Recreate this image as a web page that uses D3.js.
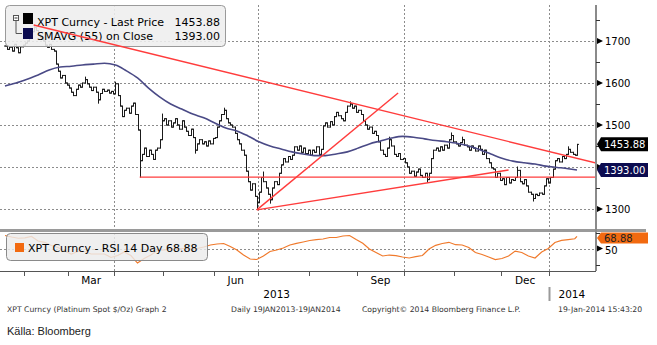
<!DOCTYPE html>
<html><head><meta charset="utf-8">
<script src="https://cdn.jsdelivr.net/npm/d3@7"></script>
<style>
html,body{margin:0;padding:0;background:#fff;}
svg{display:block;}
text{font-family:"DejaVu Sans",Verdana,sans-serif;}
</style></head><body>
<svg id="chart" width="657" height="345"></svg>
<script>
// XPT Curncy daily closes, one array per month (USD/oz)
const closeJan13 = [1688, 1680, 1685, 1676, 1692, 1684, 1672, 1686, 1690];
const closeFeb13 = [1695, 1700, 1712, 1722, 1732, 1725, 1715, 1708, 1700, 1690, 1685, 1692, 1680, 1676, 1645, 1628, 1612, 1618, 1600, 1595];
const closeMar13 = [1588, 1578, 1570, 1585, 1595, 1590, 1600, 1608, 1598, 1590, 1582, 1590, 1578, 1560, 1575, 1585, 1580, 1583, 1576, 1580, 1574];
const closeApr13 = [1598, 1570, 1545, 1520, 1535, 1540, 1528, 1545, 1552, 1525, 1488, 1415, 1430, 1445, 1425, 1440, 1430, 1418, 1440, 1445, 1465, 1510];
const closeMay13 = [1515, 1500, 1510, 1495, 1505, 1515, 1500, 1490, 1510, 1495, 1485, 1475, 1490, 1470, 1440, 1455, 1465, 1455, 1460, 1450, 1462, 1455, 1468];
const closeJun13 = [1470, 1495, 1510, 1525, 1535, 1515, 1505, 1500, 1495, 1480, 1465, 1455, 1440, 1428, 1390, 1365, 1345, 1360, 1330, 1315];
const closeJul13 = [1340, 1375, 1365, 1350, 1335, 1322, 1350, 1365, 1358, 1385, 1405, 1420, 1412, 1425, 1418, 1428, 1448, 1440, 1450, 1435, 1445, 1432, 1440];
const closeAug13 = [1428, 1440, 1435, 1448, 1430, 1442, 1498, 1505, 1495, 1508, 1500, 1520, 1530, 1522, 1515, 1510, 1530, 1545, 1550, 1540, 1545, 1530];
const closeSep13 = [1535, 1525, 1510, 1500, 1490, 1495, 1480, 1485, 1475, 1460, 1440, 1430, 1425, 1445, 1465, 1450, 1430, 1425, 1432, 1418, 1420];
const closeOct13 = [1410, 1400, 1385, 1390, 1378, 1388, 1395, 1380, 1375, 1385, 1370, 1385, 1420, 1440, 1445, 1438, 1448, 1440, 1452, 1445, 1465, 1475, 1460];
const closeNov13 = [1455, 1450, 1458, 1465, 1452, 1448, 1440, 1450, 1445, 1438, 1450, 1442, 1430, 1440, 1420, 1410, 1398, 1395, 1375, 1385, 1368];
const closeDec13 = [1372, 1358, 1375, 1362, 1370, 1368, 1375, 1392, 1365, 1360, 1370, 1355, 1340, 1335, 1325, 1335, 1332, 1338, 1335, 1355, 1372, 1362];
const closeJan14 = [1375, 1395, 1415, 1420, 1412, 1425, 1420, 1430, 1442, 1435, 1430, 1428, 1453.88];

// intraday extremes that reach beyond the open/close range: [trading day, price]
const intradayHighs = [[13, 1739], [36, 1614], [50, 1602], [71, 1526], [99, 1540], [117, 1388], [156, 1555], [174, 1471], [202, 1481], [207, 1471], [232, 1400], [255, 1448]];
const intradayLows = [[42, 1552], [61, 1376], [86, 1433], [114, 1299], [120, 1314], [191, 1364], [239, 1319]];

// SMAVG (55) on close, every 5th trading day plus the last one
const smaValues = [1593, 1600, 1609, 1619, 1631, 1638, 1640, 1643, 1645, 1647, 1643, 1629, 1612, 1588, 1567, 1550, 1538, 1526, 1517, 1505, 1493, 1486, 1474, 1460, 1450, 1443, 1436, 1431, 1427, 1427, 1431, 1436, 1445, 1455, 1462, 1469, 1473, 1471, 1467, 1463, 1460, 1456, 1450, 1441, 1431, 1421, 1414, 1410, 1407, 1402, 1399, 1396, 1393];

// RSI 14 day, every 3rd trading day plus the last one
const rsiValues = [70.3, 68, 66, 66.7, 68.8, 61.7, 59.7, 54.7, 51.6, 46, 41.4, 45.3, 45.3, 41.4, 41.4, 41.4, 36, 39, 44.5, 39, 27.3, 34.4, 39.8, 46.9, 47.7, 49.2, 50, 50, 49.2, 50, 52.3, 55.5, 57, 57.8, 53, 47.7, 39.8, 33.6, 32.8, 38.3, 45.3, 47.7, 50.8, 55.5, 58.1, 60.2, 62.5, 64, 64.8, 67.2, 67.2, 69.5, 70.3, 64, 58.1, 49.2, 43.8, 38.3, 39.8, 39, 36.7, 35.2, 37.2, 39, 49.2, 55, 57.8, 59.7, 55.9, 55.5, 51.6, 43.8, 40.6, 36.7, 32.8, 34.4, 38.3, 46, 43.8, 38.3, 35.2, 44.5, 50, 59.4, 62.8, 64, 65.2, 68.88];

// hand-drawn trend lines: [trading day, price]
const trendLines = [
  [[13, 1738], [268, 1409]],
  [[61, 1376], [268, 1376]],
  [[114, 1298], [228, 1393]],
  [[114, 1298], [178, 1576]]
];

const priceTicks = [1300, 1400, 1500, 1600, 1700];
const monthNames = ["Jan","Feb","Mar","Apr","May","Jun","Jul","Aug","Sep","Oct","Nov","Dec"];
const labelMonths = [2, 5, 8, 11];   // Mar, Jun, Sep, Dec
const lastPrice = 1453.88, lastSma = 1393.00, lastRsi = 68.88;

const closes = [].concat(closeJan13, closeFeb13, closeMar13, closeApr13, closeMay13, closeJun13,
  closeJul13, closeAug13, closeSep13, closeOct13, closeNov13, closeDec13, closeJan14);

// trading calendar: weekdays from Mon 21 Jan 2013
const days = [];
{
  const d = new Date(2013, 0, 21);
  while (days.length < closes.length) {
    const wd = d.getDay();
    if (wd !== 0 && wd !== 6) days.push(new Date(d));
    d.setDate(d.getDate() + 1);
  }
}

const svg = d3.select("#chart");
const axisX = 596, mainTop = 5, mainBottom = 228, rsiTop = 232, rsiBottom = 271;
const x = d3.scaleLinear().domain([0, closes.length - 1]).range([5, 577]);
const y = d3.scaleLinear().domain([1300, 1700]).range([209, 41]);
const yR = d3.scaleLinear().domain([25, 75]).range([264.5, 232.5]);

const defs = svg.append("defs");
defs.append("clipPath").attr("id", "mainClip").append("rect")
  .attr("x", 0).attr("y", mainTop).attr("width", axisX).attr("height", mainBottom - mainTop);
defs.append("clipPath").attr("id", "rsiClip").append("rect")
  .attr("x", 0).attr("y", rsiTop).attr("width", axisX).attr("height", rsiBottom - rsiTop);

// month boundaries
const monthStarts = [];
days.forEach((d, i) => { if (i > 0 && d.getMonth() !== days[i - 1].getMonth()) monthStarts.push(i); });
const quarterStarts = monthStarts.filter(i => days[i].getMonth() % 3 === 0);

const grid = svg.append("g").attr("stroke", "#8c8c8c").attr("stroke-dasharray", "2,2").attr("stroke-width", 1);
priceTicks.forEach(v => grid.append("line").attr("x1", 0).attr("x2", axisX).attr("y1", Math.round(y(v)) + 0.5).attr("y2", Math.round(y(v)) + 0.5));
grid.append("line").attr("x1", 0).attr("x2", axisX).attr("y1", Math.round(yR(50)) + 0.5).attr("y2", Math.round(yR(50)) + 0.5);
quarterStarts.forEach(i => {
  const xx = Math.round(x(i - 0.5)) + 0.5;
  grid.append("line").attr("x1", xx).attr("x2", xx).attr("y1", mainTop).attr("y2", rsiBottom);
});

// OHLC bars: open is the previous close
const bars = days.map((d, i) => {
  const c = closes[i], o = i > 0 ? closes[i - 1] : c;
  let hi = Math.max(o, c), lo = Math.min(o, c);
  intradayHighs.forEach(([k, v]) => { if (k === i) hi = Math.max(hi, v); });
  intradayLows.forEach(([k, v]) => { if (k === i) lo = Math.min(lo, v); });
  return { i, o, c, hi, lo };
});
const barG = svg.append("g").attr("clip-path", "url(#mainClip)").attr("stroke", "#1a1a1a").attr("stroke-width", 1);
bars.forEach(b => {
  const xx = Math.round(x(b.i)) + 0.5;
  barG.append("line").attr("x1", xx).attr("x2", xx).attr("y1", y(b.hi) - 0.5).attr("y2", y(b.lo) + 0.5);
  barG.append("line").attr("x1", xx - 1.5).attr("x2", xx).attr("y1", y(b.o)).attr("y2", y(b.o));
  barG.append("line").attr("x1", xx).attr("x2", xx + 1.5).attr("y1", y(b.c)).attr("y2", y(b.c));
});

// moving average
const smaIdx = d3.range(0, 256, 5).concat([closes.length - 1]);
svg.append("path").attr("clip-path", "url(#mainClip)")
  .datum(smaValues.map((v, k) => [smaIdx[k], v]))
  .attr("fill", "none").attr("stroke", "#4a4a86").attr("stroke-width", 1.6)
  .attr("d", d3.line().x(p => x(p[0])).y(p => y(p[1])).curve(d3.curveMonotoneX));

// price legend
const leg = svg.append("g");
leg.append("rect").attr("x", 5.5).attr("y", 5.5).attr("width", 220).attr("height", 41).attr("rx", 4)
  .attr("fill", "rgba(238,238,238,0.88)").attr("stroke", "#9a9a9a");
leg.append("rect").attr("x", 13.5).attr("y", 15.5).attr("width", 5).attr("height", 5).attr("fill", "#fff").attr("stroke", "#555");
leg.append("line").attr("x1", 14.5).attr("x2", 17.5).attr("y1", 18).attr("y2", 18).attr("stroke", "#333");
leg.append("path").attr("d", "M16,21 V33.5 H22").attr("fill", "none").attr("stroke", "#555");
leg.append("rect").attr("x", 23).attr("y", 13).attr("width", 10).attr("height", 11).attr("fill", "#000");
leg.append("rect").attr("x", 23).attr("y", 28).attr("width", 10).attr("height", 11).attr("fill", "#0c0c50");
leg.append("text").attr("x", 37).attr("y", 25.5).attr("font-size", 11).text("XPT Curncy - Last Price");
leg.append("text").attr("x", 220).attr("y", 25.5).attr("font-size", 11).attr("text-anchor", "end").text(d3.format(".2f")(lastPrice));
leg.append("text").attr("x", 37).attr("y", 39.5).attr("font-size", 11).text("SMAVG (55) on Close");
leg.append("text").attr("x", 220).attr("y", 39.5).attr("font-size", 11).attr("text-anchor", "end").text(d3.format(".2f")(lastSma));

// trend lines
const tl = svg.append("g").attr("clip-path", "url(#mainClip)");
trendLines.forEach(seg => tl.append("line")
  .attr("x1", x(seg[0][0])).attr("y1", y(seg[0][1])).attr("x2", x(seg[1][0])).attr("y2", y(seg[1][1]))
  .attr("stroke", "#ff3c3c").attr("stroke-width", 1.4));

// RSI line
const rsiIdx = d3.range(0, 259, 3).concat([closes.length - 1]);
svg.append("path").attr("clip-path", "url(#rsiClip)")
  .datum(rsiValues.map((v, k) => [rsiIdx[k], v]))
  .attr("fill", "none").attr("stroke", "#f07a2c").attr("stroke-width", 1.2)
  .attr("d", d3.line().x(p => x(p[0])).y(p => yR(p[1])));

// RSI legend
const rl = svg.append("g");
rl.append("rect").attr("x", 6.5).attr("y", 233.5).attr("width", 201).attr("height", 27).attr("rx", 4)
  .attr("fill", "rgba(236,236,236,0.82)").attr("stroke", "#8a8a8a");
rl.append("rect").attr("x", 15).attr("y", 243).attr("width", 9).attr("height", 9).attr("fill", "#f26a10");
rl.append("text").attr("x", 28).attr("y", 252).attr("font-size", 11)
  .text("XPT Curncy - RSI 14 Day " + d3.format(".2f")(lastRsi));

// panel separator
svg.append("rect").attr("x", 0).attr("y", 229).attr("width", 646).attr("height", 3).attr("fill", "#9a9a9a");

// right value axis
const axisG = svg.append("g");
axisG.append("line").attr("x1", axisX).attr("x2", axisX).attr("y1", mainTop).attr("y2", rsiBottom)
  .attr("stroke", "#8a8a8a").attr("stroke-width", 2);
d3.range(1250, 1800, 50).filter(v => v % 100 !== 0 && y(v) > mainTop && y(v) < mainBottom).forEach(v =>
  axisG.append("line").attr("x1", axisX).attr("x2", axisX + 4).attr("y1", Math.round(y(v)) + 0.5).attr("y2", Math.round(y(v)) + 0.5).attr("stroke", "#333"));
const tri = yc => `M${axisX + 1},${yc - 3}L${axisX + 7},${yc}L${axisX + 1},${yc + 3}Z`;
const tagYs = [y(lastPrice), y(lastSma)];
priceTicks.forEach(v => {
  const yc = y(v);
  axisG.append("path").attr("d", tri(yc)).attr("fill", "#000");
  if (tagYs.every(t => Math.abs(t - yc) > 9))
    axisG.append("text").attr("x", 605).attr("y", yc + 3.6).attr("font-size", 10).text(v);
});
[25, 75].forEach(v => axisG.append("line").attr("x1", axisX).attr("x2", axisX + 4)
  .attr("y1", Math.round(yR(v)) + 0.5).attr("y2", Math.round(yR(v)) + 0.5).attr("stroke", "#333"));
axisG.append("path").attr("d", tri(yR(50))).attr("fill", "#000");
axisG.append("text").attr("x", 605).attr("y", yR(50) + 5).attr("font-size", 10).text("50");

function tag(yc, h, fill, color, txt) {
  const g = svg.append("g");
  g.append("path").attr("d", `M${axisX + 1},${yc}L${axisX + 5},${yc - h / 2}H648V${yc + h / 2}H${axisX + 5}Z`).attr("fill", fill);
  g.append("text").attr("x", 604).attr("y", yc + 3.6).attr("font-size", 10).attr("fill", color).text(txt);
}
tag(y(lastPrice), 14, "#000", "#fff", d3.format(".2f")(lastPrice));
tag(y(lastSma), 14, "#0c0c50", "#fff", d3.format(".2f")(lastSma));
tag(Math.max(yR(lastRsi), 238), 11, "#f26a10", "#222", d3.format(".2f")(lastRsi));

// time axis
const xa = svg.append("g");
xa.append("line").attr("x1", 0).attr("x2", axisX).attr("y1", rsiBottom + 0.5).attr("y2", rsiBottom + 0.5).attr("stroke", "#555");
monthStarts.forEach(i => {
  const xx = Math.round(x(i - 0.5)) + 0.5;
  xa.append("line").attr("x1", xx).attr("x2", xx).attr("y1", rsiBottom).attr("y2", rsiBottom + 5).attr("stroke", "#555");
});
labelMonths.forEach(m => {
  const idx = days.map((d, i) => i).filter(i => days[i].getMonth() === m && days[i].getFullYear() === 2013);
  xa.append("text").attr("x", x((idx[0] + idx[idx.length - 1]) / 2)).attr("y", 284)
    .attr("font-size", 10.5).attr("text-anchor", "middle").text(monthNames[m]);
});
const y13 = days.map((d, i) => i).filter(i => days[i].getFullYear() === 2013);
const y14 = days.map((d, i) => i).filter(i => days[i].getFullYear() === 2014);
xa.append("text").attr("x", x((y13[0] + y13[y13.length - 1]) / 2)).attr("y", 298).attr("font-size", 10.5)
  .attr("text-anchor", "middle").text("2013");
const yearX = Math.round(x(y14[0] - 0.5)) + 0.5;
xa.append("line").attr("x1", yearX).attr("x2", yearX).attr("y1", 287).attr("y2", 301).attr("stroke", "#9a9a9a").attr("stroke-width", 2);
xa.append("text").attr("x", yearX + 9).attr("y", 298).attr("font-size", 10.5).text("2014");

// footer
const ft = svg.append("g").attr("font-size", 7.7).attr("fill", "#333");
ft.append("text").attr("x", 7).attr("y", 312).text("XPT Curncy (Platinum Spot  $/Oz) Graph 2");
ft.append("text").attr("x", 231).attr("y", 312).text("Daily 19JAN2013-19JAN2014");
ft.append("text").attr("x", 362).attr("y", 312).text("Copyright\u00A9 2014 Bloomberg Finance L.P.");
ft.append("text").attr("x", 558).attr("y", 312).text("19-Jan-2014 15:43:20");
svg.append("text").attr("x", 7).attr("y", 335).attr("font-size", 11)
  .style("font-family", "'Liberation Sans Narrow','Liberation Sans',Arial,sans-serif").attr("fill", "#222")
  .text("Källa: Bloomberg");
</script>
</body></html>
